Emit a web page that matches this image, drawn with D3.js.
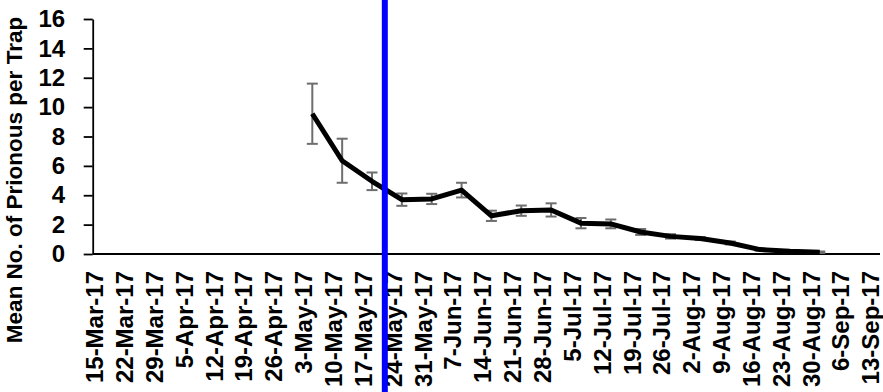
<!DOCTYPE html>
<html>
<head>
<meta charset="utf-8">
<script src="https://cdn.jsdelivr.net/npm/d3@7"></script>
<style>
  html, body { margin: 0; padding: 0; background: #fff; }
  svg { display: block; }
  text { font-family: "Liberation Sans", Arial, sans-serif; font-weight: bold; fill: #000; }
</style>
</head>
<body>
<svg id="chart" width="883" height="392"></svg>
<script>
// Weekly axis labels
const tickLabels = [
  "15-Mar-17", "22-Mar-17", "29-Mar-17", "5-Apr-17", "12-Apr-17", "19-Apr-17",
  "26-Apr-17", "3-May-17", "10-May-17", "17-May-17", "24-May-17", "31-May-17",
  "7-Jun-17", "14-Jun-17", "21-Jun-17", "28-Jun-17", "5-Jul-17", "12-Jul-17",
  "19-Jul-17", "26-Jul-17", "2-Aug-17", "9-Aug-17", "16-Aug-17", "23-Aug-17",
  "30-Aug-17", "6-Sep-17", "13-Sep-17"
];

// Trap inspection dates
const sampleDates = [
  "5-May-17", "12-May-17", "19-May-17", "26-May-17", "2-Jun-17", "9-Jun-17",
  "16-Jun-17", "23-Jun-17", "30-Jun-17", "7-Jul-17", "14-Jul-17", "21-Jul-17",
  "28-Jul-17", "4-Aug-17", "11-Aug-17", "18-Aug-17", "25-Aug-17", "1-Sep-17"
];

// Mean catch per trap and its standard error
const meanCounts = [9.55, 6.35, 4.95, 3.7, 3.75, 4.35, 2.6, 2.95, 3.0, 2.1, 2.05, 1.5, 1.2, 1.05, 0.75, 0.3, 0.18, 0.12];
const stdErrors  = [2.05, 1.5, 0.6, 0.42, 0.35, 0.5, 0.35, 0.35, 0.45, 0.35, 0.3, 0.2, 0.15, 0.1, 0.1, 0.08, 0.05, 0.05];

const yTicks = [0, 2, 4, 6, 8, 10, 12, 14, 16];
const markerDate = "22-May-17";

const parse = d3.utcParse("%d-%b-%y");
const svg = d3.select("#chart");

const x = d3.scaleUtc()
  .domain([new Date(Date.UTC(2017, 2, 14, 12)), new Date(Date.UTC(2017, 8, 15, 3))])
  .range([92.7, 880]);
const y = d3.scaleLinear().domain([0, 16]).range([254, 19]);

// Y axis
const yAxis = svg.append("g")
  .attr("transform", `translate(${x.range()[0]},0)`)
  .call(d3.axisLeft(y).tickValues(yTicks).tickSize(9).tickSizeOuter(0).tickPadding(18.5));
yAxis.select(".domain").attr("stroke", "#000").attr("stroke-width", 1.8);
yAxis.selectAll(".tick line").attr("stroke", "#000").attr("stroke-width", 1.8);
yAxis.selectAll(".tick text")
  .attr("font-family", "Liberation Sans, Arial, sans-serif")
  .attr("font-weight", "bold")
  .attr("font-size", 24)
  .attr("fill", "#000");

// X axis line
svg.append("line")
  .attr("x1", x.range()[0]).attr("x2", x.range()[1])
  .attr("y1", y(0)).attr("y2", y(0))
  .attr("stroke", "#000").attr("stroke-width", 1.8);

// X axis labels (rotated)
svg.append("g").selectAll("text")
  .data(tickLabels)
  .join("text")
  .attr("transform", d => `translate(${x(parse(d))},${y(0) + 17}) rotate(-90)`)
  .attr("text-anchor", "end")
  .attr("dy", "0.35em")
  .attr("font-size", 24)
  .text(d => d);

// Y axis title
svg.append("text")
  .attr("transform", "translate(14,180) rotate(-90)")
  .attr("text-anchor", "middle")
  .attr("dy", "0.35em")
  .attr("font-size", 22.5)
  .text("Mean No. of Prionous per Trap");

const points = sampleDates.map((d, i) => ({ date: parse(d), value: meanCounts[i], se: stdErrors[i] }));

// Error bars
const eb = svg.append("g").attr("stroke", "#6e6e6e").attr("stroke-width", 2).attr("fill", "none");
points.forEach(p => {
  const cx = x(p.date), y1 = y(p.value + p.se), y2 = y(Math.max(0, p.value - p.se));
  eb.append("line").attr("x1", cx).attr("x2", cx).attr("y1", y1).attr("y2", y2);
  eb.append("line").attr("x1", cx - 5.5).attr("x2", cx + 5.5).attr("y1", y1).attr("y2", y1);
  eb.append("line").attr("x1", cx - 5.5).attr("x2", cx + 5.5).attr("y1", y2).attr("y2", y2);
});

// Mean line
svg.append("path")
  .datum(points)
  .attr("fill", "none")
  .attr("stroke", "#000")
  .attr("stroke-width", 5)
  .attr("stroke-linejoin", "round")
  .attr("d", d3.line().x(d => x(d.date)).y(d => y(d.value)));

// Vertical marker
const mx = x(parse(markerDate));
svg.append("line")
  .attr("x1", mx).attr("x2", mx)
  .attr("y1", 0).attr("y2", 392)
  .attr("stroke", "#0000ff").attr("stroke-width", 6);
</script>
</body>
</html>
